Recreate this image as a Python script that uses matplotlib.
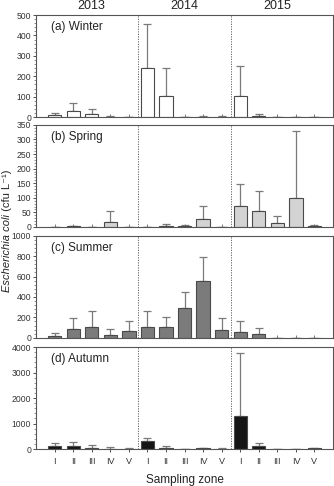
import matplotlib
matplotlib.use('Agg')
import matplotlib.pyplot as plt
from matplotlib.ticker import MultipleLocator
import numpy as np

plt.rcParams['font.family'] = ['Liberation Sans', 'DejaVu Sans']

years = ['2013', '2014', '2015']
zones = ['I', 'II', 'III', 'IV', 'V']

# mean and SD per zone, 2013 | 2014 | 2015
winter_mean = [10, 32, 14, 3, 0, 242, 105, 0, 3, 3, 104, 5, 0, 0, 0]
winter_sd = [10, 38, 26, 3, 0, 215, 138, 0, 3, 3, 146, 10, 0, 0, 0]
spring_mean = [0, 2, 0, 17, 0, 0, 4, 4, 29, 0, 73, 56, 14, 100, 3]
spring_sd = [0, 2, 0, 37, 0, 0, 6, 4, 42, 0, 75, 68, 25, 228, 4]
summer_mean = [20, 86, 110, 32, 69, 110, 106, 290, 552, 80, 54, 36, 0, 0, 0]
summer_sd = [30, 105, 150, 54, 98, 152, 99, 160, 237, 116, 113, 59, 0, 0, 0]
autumn_mean = [115, 135, 50, 20, 20, 300, 50, 0, 30, 10, 1300, 120, 10, 0, 30]
autumn_sd = [118, 138, 90, 50, 30, 130, 60, 0, 30, 30, 2470, 125, 10, 0, 30]

panels = [
    ('(a) Winter', winter_mean, winter_sd, 'white', 500, 100),
    ('(b) Spring', spring_mean, spring_sd, '#d3d3d3', 350, 50),
    ('(c) Summer', summer_mean, summer_sd, '#7b7b7b', 1000, 200),
    ('(d) Autumn', autumn_mean, autumn_sd, '#151515', 4000, 1000),
]

fig = plt.figure(figsize=(3.34, 4.86), dpi=100)
bottoms = [0.759, 0.533, 0.305, 0.076]
x = np.arange(15)

for i, (label, mean, sd, color, ymax, step) in enumerate(panels):
    ax = fig.add_axes([0.108, bottoms[i], 0.889, 0.21])
    mean = np.array(mean)
    sd = np.array(sd)
    ax.bar(x, mean, width=0.72, color=color, edgecolor='#4a4a4a', linewidth=0.8, zorder=2)
    ax.errorbar(x, mean, yerr=[np.zeros_like(sd), sd], fmt='none',
                ecolor='#7a7a7a', elinewidth=0.9, capsize=3, capthick=0.9, zorder=1)
    for xv in (4.5, 9.5):
        ax.axvline(xv, color='#555555', linestyle=(0, (1.5, 1.5)), linewidth=0.6)
    ax.set_xlim(-1, 15)
    ax.set_ylim(0, ymax)
    ax.yaxis.set_major_locator(MultipleLocator(step))
    ax.yaxis.set_minor_locator(MultipleLocator(step / 5))
    ax.set_xticks(x)
    ax.tick_params(axis='y', labelsize=6.2, length=2.5, width=0.6, pad=1, colors='#333333')
    ax.tick_params(axis='y', which='minor', length=1.5, width=0.5, colors='#666666')
    if i < 3:
        ax.tick_params(axis='x', direction='in', length=2, width=0.6, labelbottom=False, colors='#666666')
    else:
        ax.set_xticklabels(zones * 3)
        ax.tick_params(axis='x', direction='out', length=2.5, width=0.6, labelsize=6.5, pad=3, colors='#333333')
        ax.set_xlabel('Sampling zone', fontsize=8.5, color='#222222', labelpad=6)
    for s in ax.spines.values():
        s.set_color('#555555')
        s.set_linewidth(0.8)
    ax.text(0.05, 0.88, label, transform=ax.transAxes, fontsize=8.5, color='#222222', va='center')
    if i == 0:
        for j, yr in enumerate(years):
            ax.text(2 + 5 * j, ymax * 1.03, yr, ha='center', va='bottom', fontsize=9, color='#222222')

# y label in two parts: italic species name + units
fig.text(0.022, 0.56, 'Escherichia coli', rotation=90, style='italic',
         ha='center', va='top', fontsize=8, color='#222222')
fig.text(0.022, 0.56, ' (cfu L\u207b\u00b9)', rotation=90,
         ha='center', va='bottom', fontsize=8, color='#222222')

fig.savefig('out.png', dpi=100)
